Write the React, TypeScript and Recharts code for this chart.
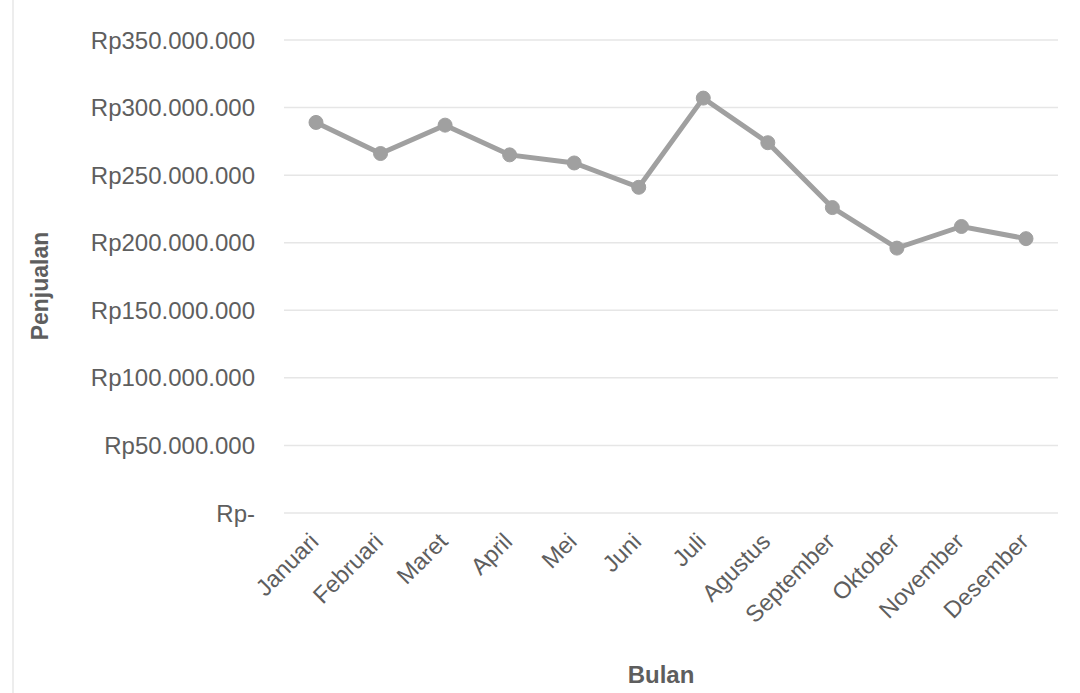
import React from 'react';
import { LineChart, Line, XAxis, YAxis, CartesianGrid, Label } from 'recharts';

const months = [
  'Januari', 'Februari', 'Maret', 'April', 'Mei', 'Juni',
  'Juli', 'Agustus', 'September', 'Oktober', 'November', 'Desember',
];
const sales = [
  289000000, 266000000, 287000000, 265000000, 259000000, 241000000,
  307000000, 274000000, 226000000, 196000000, 212000000, 203000000,
];
const yTicks = [0, 50000000, 100000000, 150000000, 200000000, 250000000, 300000000, 350000000];

const data = months.map((m, i) => ({ month: m, sales: sales[i] }));

const formatRp = (v: number) => {
  if (v === 0) return 'Rp-';
  return 'Rp' + String(v).replace(/\B(?=(\d{3})+(?!\d))/g, '.');
};

const font = '"Liberation Sans", Arial, sans-serif';
const textColor = '#5e5e5e';

// rotated month labels, anchored at the end of the word
const XTick = ({ x, y, payload }: any) => (
  <g transform={`translate(${x + 4},${y + 28}) rotate(-45)`}>
    <text x={0} y={0} textAnchor="end" fill={textColor} fontSize={23.5} fontFamily={font}>
      {payload.value}
    </text>
  </g>
);

const YTitle = () => (
  <text
    transform="translate(48,286) rotate(-90)"
    textAnchor="middle"
    fill={textColor}
    fontSize={23}
    fontWeight="bold"
    fontFamily={font}
  >
    Penjualan
  </text>
);

export default function App() {
  return (
    <div style={{ position: 'absolute', left: 0, top: 0, width: 1080, height: 693, background: '#fff' }}>
      <div style={{ position: 'absolute', left: 12, top: 0, width: 2, height: 693, background: '#ededed' }} />
      <LineChart
        width={1080}
        height={693}
        data={data}
        margin={{ top: 40, right: 22, left: 0, bottom: 0 }}
      >
        <CartesianGrid stroke="#e6e6e6" strokeWidth={1.5} vertical={false} />
        <XAxis
          dataKey="month"
          axisLine={false}
          tickLine={false}
          tickSize={0}
          interval={0}
          height={180}
          padding={{ left: 32, right: 32 }}
          tick={<XTick />}
        >
          <Label
            value="Bulan"
            position="insideBottom"
            offset={10}
            dx={-10}
            fill={textColor}
            fontSize={24}
            fontWeight="bold"
            fontFamily={font}
          />
        </XAxis>
        <YAxis
          domain={[0, 350000000]}
          ticks={yTicks}
          tickFormatter={formatRp}
          axisLine={false}
          tickLine={false}
          tickSize={0}
          tickMargin={29}
          width={284}
          tick={{ fill: textColor, fontSize: 24, fontFamily: font }}
        >
          <Label content={<YTitle />} />
        </YAxis>
        <Line
          type="linear"
          dataKey="sales"
          stroke="#a0a0a0"
          strokeWidth={5}
          dot={{ r: 7, fill: '#a0a0a0', stroke: '#a0a0a0', strokeWidth: 1 }}
          isAnimationActive={false}
        />
      </LineChart>
    </div>
  );
}
